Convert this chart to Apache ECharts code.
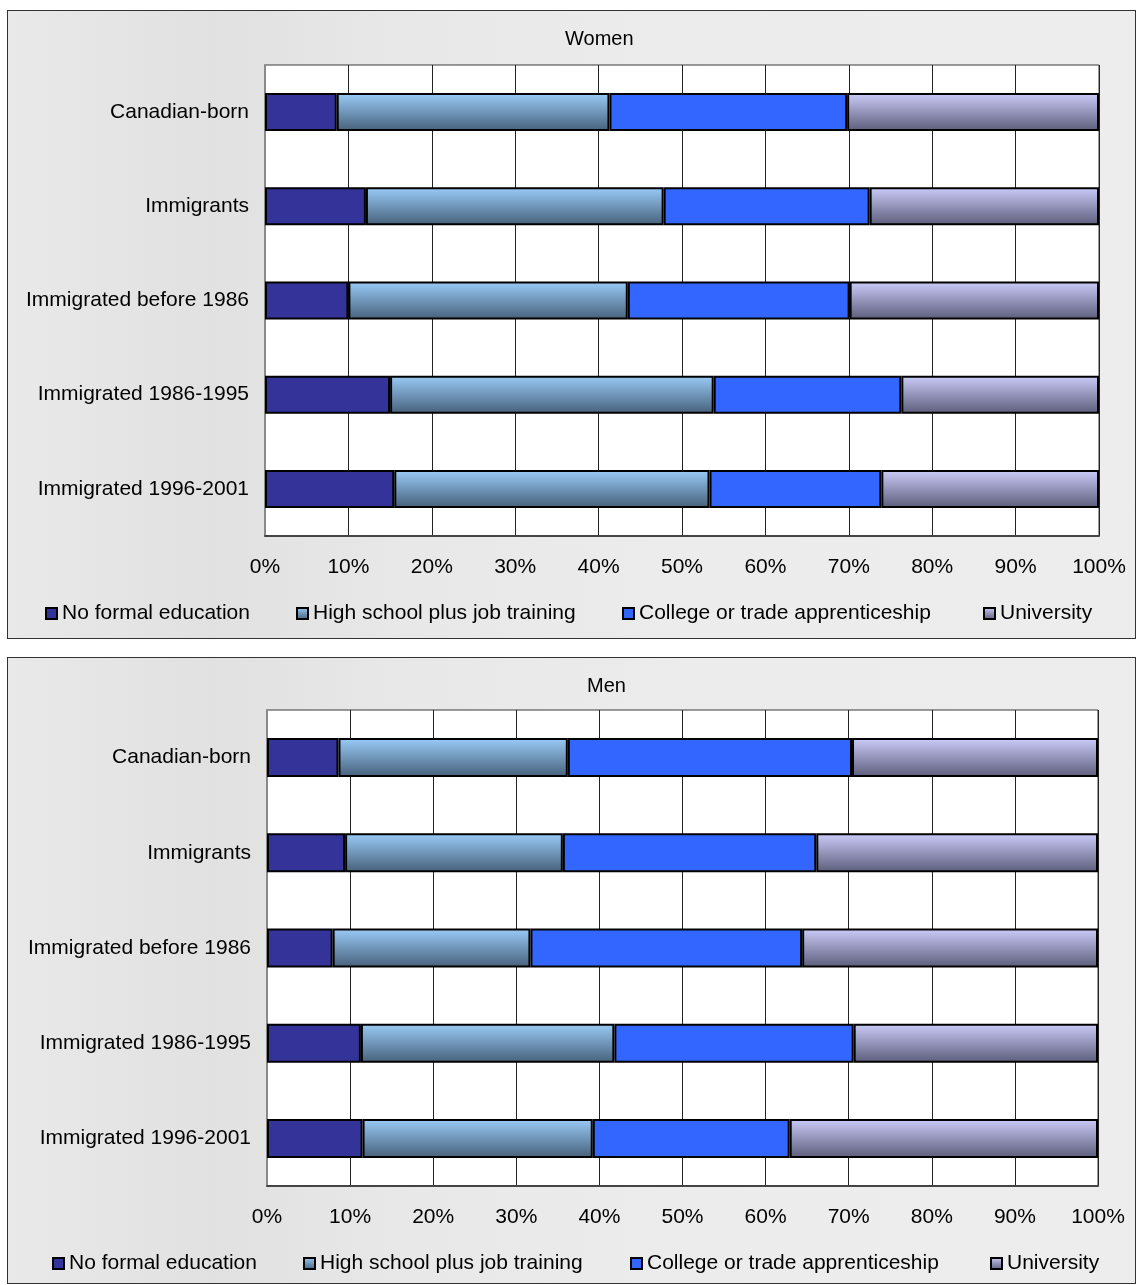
<!DOCTYPE html>
<html>
<head>
<meta charset="utf-8">
<script src="https://cdn.jsdelivr.net/npm/echarts@6/dist/echarts.min.js"></script>
<style>
  html, body { margin: 0; padding: 0; background: #ffffff; width: 1136px; height: 1285px; overflow: hidden; }
  .panel { position: absolute; box-sizing: border-box; border: 1px solid #333; 
    background: linear-gradient(to right, #e9e9e9 0%, #e1e1e1 18%, #e8e8e8 35%, #ececec 60%, #ededed 100%); }
  .chart { position: absolute; left: 0; top: 0; }
</style>
</head>
<body>
<div class="panel" style="left:7px; top:10px; width:1129px; height:629px;">
  <div id="women" class="chart" style="width:1127px; height:627px;"></div>
</div>
<div class="panel" style="left:7px; top:657px; width:1129px; height:627px;">
  <div id="men" class="chart" style="width:1127px; height:625px;"></div>
</div>
<script>
// ---- data ----
const categories = ['Canadian-born', 'Immigrants', 'Immigrated before 1986', 'Immigrated 1986-1995', 'Immigrated 1996-2001'];
const seriesNames = ['No formal education', 'High school plus job training', 'College or trade apprenticeship', 'University'];
const tickValues = [0, 10, 20, 30, 40, 50, 60, 70, 80, 90, 100];

// Women (percent shares)
const womenNoFormal   = [8.6, 12.1, 10.0, 15.0, 15.5];
const womenHighSchool = [32.7, 35.7, 33.5, 38.8, 37.8];
const womenCollege    = [28.5, 24.7, 26.6, 22.5, 20.6];
const womenUniversity = [30.2, 27.5, 29.9, 23.7, 26.1];

// Men (percent shares)
const menNoFormal   = [8.6, 9.4, 7.9, 11.3, 11.5];
const menHighSchool = [27.6, 26.2, 23.8, 30.5, 27.7];
const menCollege    = [34.2, 30.5, 32.7, 28.8, 23.7];
const menUniversity = [29.6, 33.9, 35.6, 29.4, 37.1];

const FONT = '"Liberation Sans", Arial, sans-serif';

function grad(top, bottom) {
  return { type: 'linear', x: 0, y: 0, x2: 0, y2: 1,
    colorStops: [{ offset: 0, color: top }, { offset: 1, color: bottom }] };
}
const fills = [
  '#333399',
  grad('#9accf8', '#46607a'),
  '#3366ff',
  grad('#ccccfa', '#5c5c7a')
];

function build(el, title, p, values) {
  const chart = echarts.init(document.getElementById(el), null, { renderer: 'canvas' });
  const series = seriesNames.map((name, i) => ({
    name: name,
    type: 'bar',
    stack: 'total',
    barWidth: p.barWidth,
    data: values[i],
    itemStyle: { color: fills[i], borderColor: '#000', borderWidth: 2 },
    emphasis: { disabled: true },
    silent: true
  }));
  const legends = seriesNames.map((name, i) => ({
    data: [name],
    left: p.legendX[i],
    top: p.legendTop,
    padding: 0,
    itemWidth: 11,
    itemHeight: 11,
    itemGap: 0,
    icon: 'rect',
    selectedMode: false,
    textStyle: { fontFamily: FONT, fontSize: 21, color: '#000' }
  }));
  chart.setOption({
    animation: false,
    backgroundColor: 'transparent',
    graphic: [{
      type: 'text',
      left: p.titleX, top: p.titleY,
      style: { text: title, font: '20px ' + FONT, fill: '#000' }
    }],
    legend: legends,
    grid: {
      left: p.gridLeft, top: p.gridTop, width: p.gridWidth, height: p.gridHeight,
      show: true, backgroundColor: '#ffffff', borderColor: '#3a3a3a', borderWidth: 1
    },
    xAxis: {
      type: 'value', min: 0, max: 100, interval: 10,
      axisLine: { show: true, lineStyle: { color: '#444', width: 2 } },
      axisTick: { show: false },
      splitLine: { show: true, lineStyle: { color: '#222', width: 1 } },
      axisLabel: {
        margin: 21, fontFamily: FONT, fontSize: 21, color: '#000',
        formatter: v => tickValues.indexOf(v) >= 0 ? v + '%' : ''
      }
    },
    yAxis: {
      type: 'category', data: categories, inverse: true,
      axisLine: { show: true, lineStyle: { color: '#8a8a8a', width: 2 } },
      axisTick: { show: false },
      axisLabel: { margin: 16, fontFamily: FONT, fontSize: 21, color: '#000' }
    },
    series: series
  });
}

build('women', 'Women', {
  barWidth: 38,
  gridLeft: 257, gridTop: 54, gridWidth: 834, gridHeight: 471,
  titleX: 557, titleY: 18,
  legendX: [37, 288, 614, 975], legendTop: 592
}, [womenNoFormal, womenHighSchool, womenCollege, womenUniversity]);

build('men', 'Men', {
  barWidth: 39,
  gridLeft: 259, gridTop: 52, gridWidth: 831, gridHeight: 476,
  titleX: 579, titleY: 18,
  legendX: [44, 295, 622, 982], legendTop: 595
}, [menNoFormal, menHighSchool, menCollege, menUniversity]);
</script>
</body>
</html>
